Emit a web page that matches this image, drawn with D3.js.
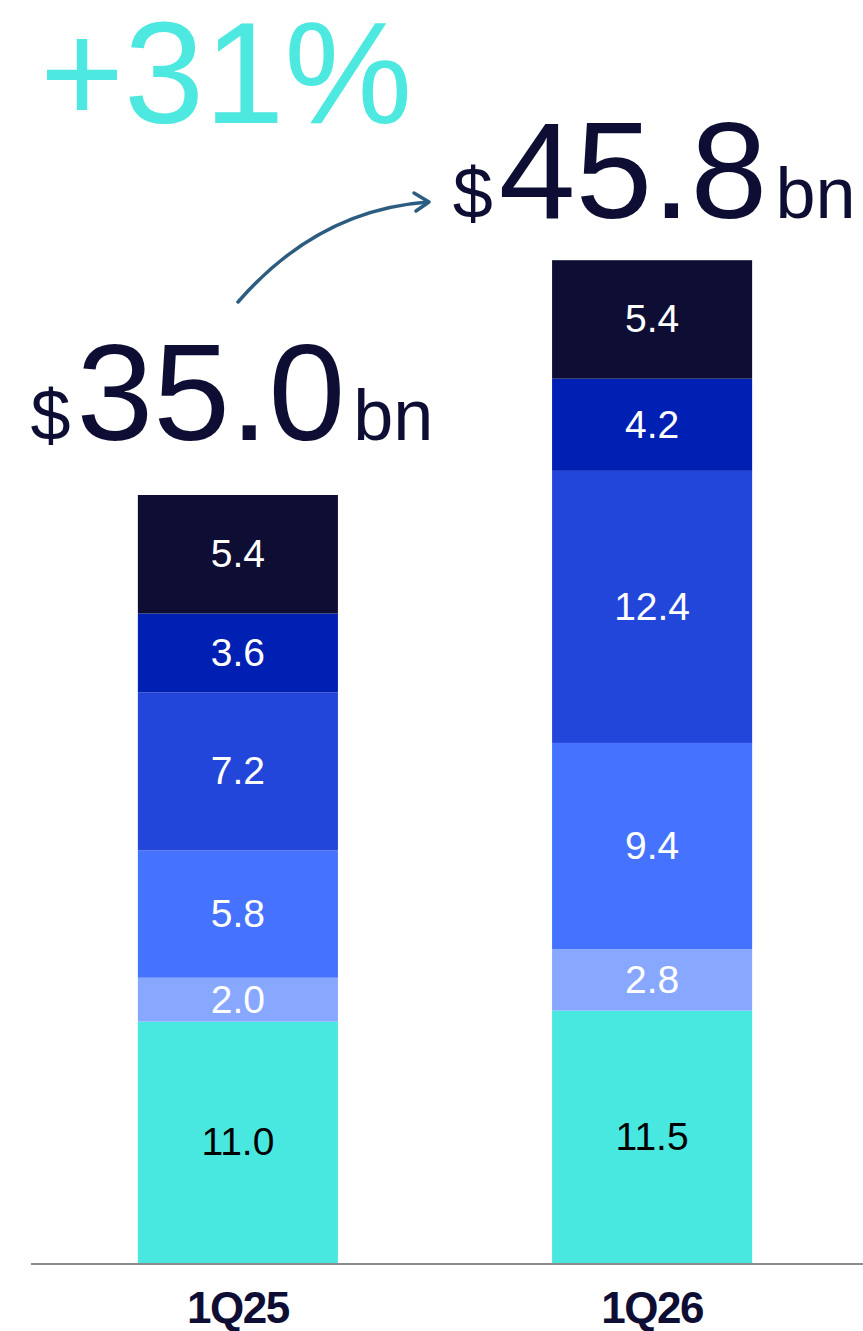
<!DOCTYPE html>
<html>
<head>
<meta charset="utf-8">
<script src="https://cdn.jsdelivr.net/npm/d3@7"></script>
<style>
  body { margin: 0; background: #ffffff; }
  svg text { font-family: "Liberation Sans", Arial, sans-serif; }
</style>
</head>
<body>
<script>
const quarters = ["1Q25", "1Q26"];
const segmentNames = ["s1", "s2", "s3", "s4", "s5", "s6"];
const q25Values = [11.0, 2.0, 5.8, 7.2, 3.6, 5.4];
const q26Values = [11.5, 2.8, 9.4, 12.4, 4.2, 5.4];
const totals = [35.0, 45.8];
const growthLabel = "+31%";
const segmentColors = ["#48e8e0", "#88a8ff", "#4573ff", "#2346da", "#001fb3", "#0e0e35"];
const labelColors = ["#000000", "#ffffff", "#ffffff", "#ffffff", "#ffffff", "#ffffff"];

const wSvg = 863;
const hSvg = 1331;
const baseY = 1263;
const topY = 258;

let rows = quarters.map((q, i) => {
    let vals = i == 0 ? q25Values : q26Values;
    let row = { quarter: q };
    segmentNames.forEach((s, j) => row[s] = vals[j]);
    return row;
});

let stacked = d3.stack().keys(segmentNames)(rows);

let svg = d3.select("body")
    .append("svg")
    .attr("width", wSvg)
    .attr("height", hSvg);

let yScale = d3.scaleLinear([0, d3.max(totals)], [baseY, topY]);
let xScale = d3.scaleBand(quarters, [31, 859])
    .paddingInner(0.517)
    .paddingOuter(0.258);

// bars
stacked.forEach((layer, j) => {
    let g = svg.append("g");
    g.selectAll("rect")
        .data(layer)
        .enter()
        .append("rect")
        .attr("x", d => xScale(d.data.quarter))
        .attr("y", d => yScale(d[1]))
        .attr("width", xScale.bandwidth())
        .attr("height", d => yScale(d[0]) - yScale(d[1]))
        .attr("fill", segmentColors[j]);

    g.selectAll("text")
        .data(layer)
        .enter()
        .append("text")
        .attr("x", d => xScale(d.data.quarter) + xScale.bandwidth() / 2)
        .attr("y", d => (yScale(d[0]) + yScale(d[1])) / 2)
        .attr("dy", "0.33em")
        .attr("text-anchor", "middle")
        .attr("font-size", 39)
        .attr("fill", labelColors[j])
        .text(d => (d[1] - d[0]).toFixed(1));
});

// baseline
svg.append("line")
    .attr("x1", 31)
    .attr("x2", wSvg)
    .attr("y1", baseY + 1)
    .attr("y2", baseY + 1)
    .attr("stroke", "#8c8c8c")
    .attr("stroke-width", 2);

// x axis labels
let xAxis = d3.axisBottom(xScale).tickSize(0).tickPadding(0);
let axisG = svg.append("g")
    .attr("transform", `translate(0, ${baseY})`)
    .call(xAxis);
axisG.select(".domain").remove();
axisG.selectAll("text")
    .attr("y", 60)
    .attr("dy", 0)
    .attr("font-size", 44)
    .attr("font-weight", "bold")
    .attr("letter-spacing", -1.5)
    .attr("font-family", "Liberation Sans, Arial, sans-serif")
    .attr("fill", "#0e0e35");

// totals
const totalOffsets = [55, 40];
totals.forEach((t, i) => {
    let txt = svg.append("text")
        .attr("x", xScale(quarters[i]) + xScale.bandwidth() / 2 - (i == 0 ? 6 : -2))
        .attr("y", yScale(t) - totalOffsets[i])
        .attr("text-anchor", "middle")
        .attr("fill", "#0e0e35");
    txt.append("tspan").attr("font-size", 72).text("$");
    txt.append("tspan").attr("font-size", 138).attr("dx", 6).text(t.toFixed(1));
    txt.append("tspan").attr("font-size", 72).attr("dx", 8).text("bn");
});

// growth label
svg.append("text")
    .attr("x", 40)
    .attr("y", 123)
    .attr("font-size", 144)
    .attr("fill", "#4de8e0")
    .text(growthLabel);

// arrow
svg.append("path")
    .attr("d", "M238,302 Q318,210 428,202")
    .attr("fill", "none")
    .attr("stroke", "#2c5d80")
    .attr("stroke-width", 3.5)
    .attr("stroke-linecap", "round");
svg.append("path")
    .attr("d", "M414,193 L429,202 L416,211")
    .attr("fill", "none")
    .attr("stroke", "#2c5d80")
    .attr("stroke-width", 3.5)
    .attr("stroke-linecap", "round")
    .attr("stroke-linejoin", "round");
</script>
</body>
</html>
